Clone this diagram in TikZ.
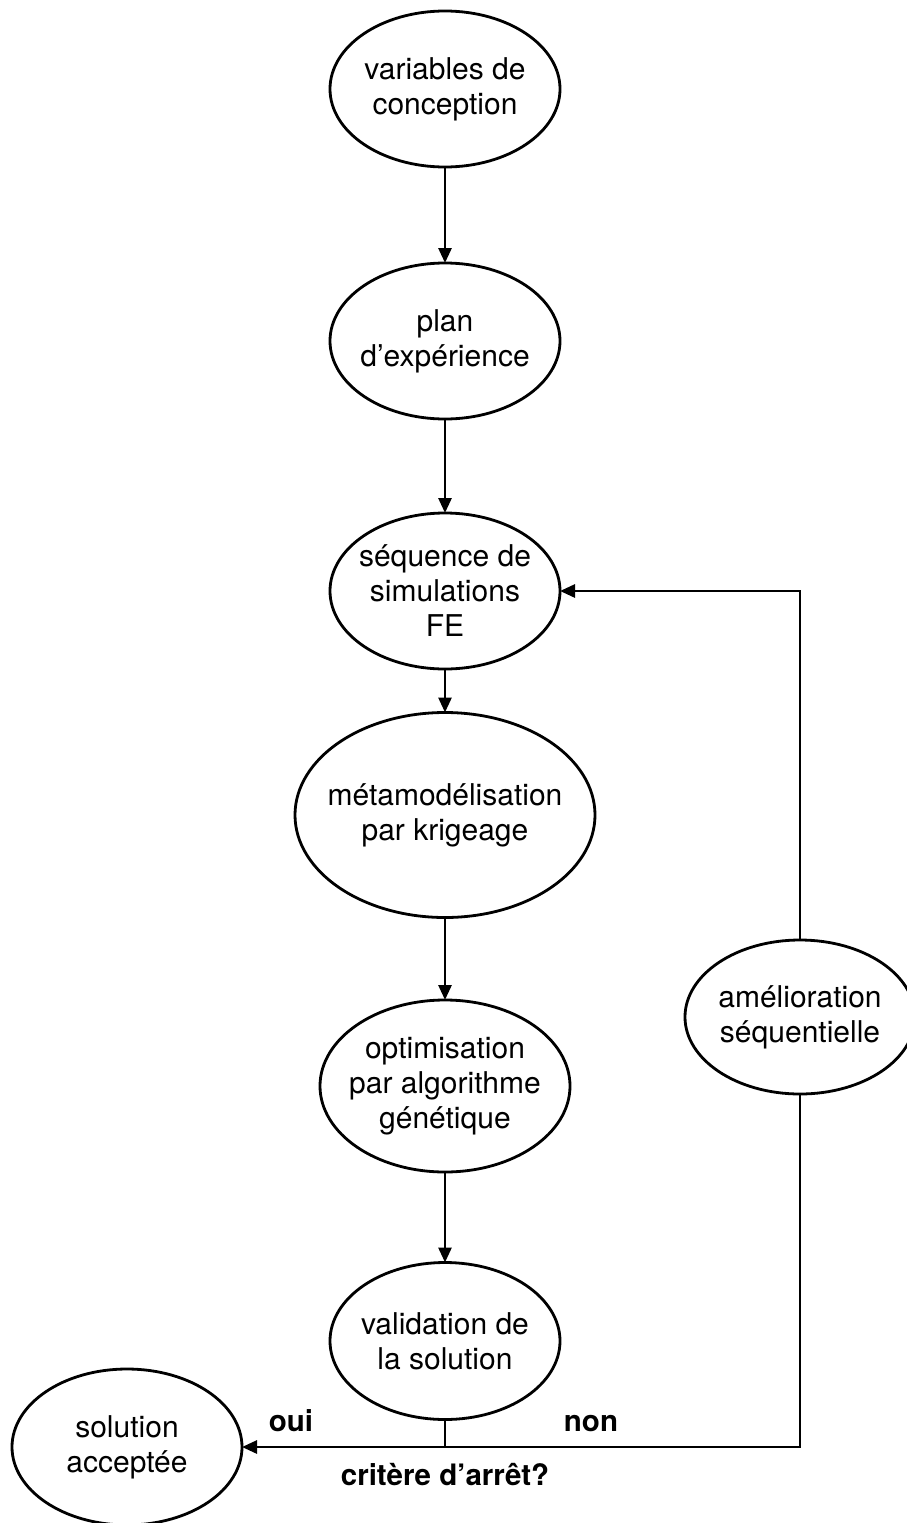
\documentclass[tikz,border=0pt]{standalone}
\usepackage{fontspec}
\setmainfont{TeX Gyre Heros}
\usetikzlibrary{shapes.geometric,arrows.meta}
\begin{document}
\begin{tikzpicture}[x=1pt,y=-1pt,
  bubble/.style={draw, ellipse, line width=2.8pt, inner sep=0pt, outer sep=0pt,
                 minimum width=230pt, minimum height=156pt},
  txt/.style={font=\fontsize{30}{35}\selectfont, align=center, inner sep=0pt},
  conn/.style={line width=2.8pt},
  arr/.style={line width=2.8pt, -{Triangle[length=15pt,width=13pt]}},
  lbl/.style={font=\bfseries\fontsize{29.5}{34}\selectfont, anchor=base, inner sep=0pt}]
\useasboundingbox (0,0) rectangle (907,1523);

\node[bubble, label={[txt]center:{variables de\\conception}}] (var) at (445,89) {};
\node[bubble, label={[txt]center:{plan\\d’expérience}}] (plan) at (445,341) {};
\node[bubble, label={[txt]center:{séquence de\\simulations\\FE}}] (seq) at (445,591) {};
\node[bubble, minimum width=300pt, minimum height=205pt,
      label={[txt]center:{métamodélisation\\par krigeage}}] (meta) at (445,815) {};
\node[bubble, minimum width=250pt, minimum height=172pt,
      label={[txt]center:{optimisation\\par algorithme\\génétique}}] (opt) at (445,1086) {};
\node[bubble, minimum height=157pt, label={[txt]center:{validation de\\la solution}}] (valid) at (445,1341) {};
\node[bubble, label={[txt]center:{solution\\acceptée}}] (accept) at (127,1447) {};
\node[bubble, minimum height=154pt, label={[txt]center:{amélioration\\séquentielle}}] (amel) at (800,1017) {};

\coordinate (j) at (445,1447);
\coordinate (jr) at (800,1447);

\draw[arr] (var) -- (plan);
\draw[arr] (plan) -- (seq);
\draw[arr] (seq) -- (meta);
\draw[arr] (meta) -- (opt);
\draw[arr] (opt) -- (valid);
\draw[conn] (valid.south) -- (j);
\draw[arr] (j) -- (accept.east);
\draw[conn] (j) -- (jr) -- (amel.south);
\draw[arr] (amel.north) |- (seq.east);

\node[lbl] (oui) at (291,1431) {oui};
\node[lbl] (non) at (591,1431) {non};
\node[lbl] (crit) at (445,1485) {critère d’arrêt?};
\end{tikzpicture}
\end{document}
